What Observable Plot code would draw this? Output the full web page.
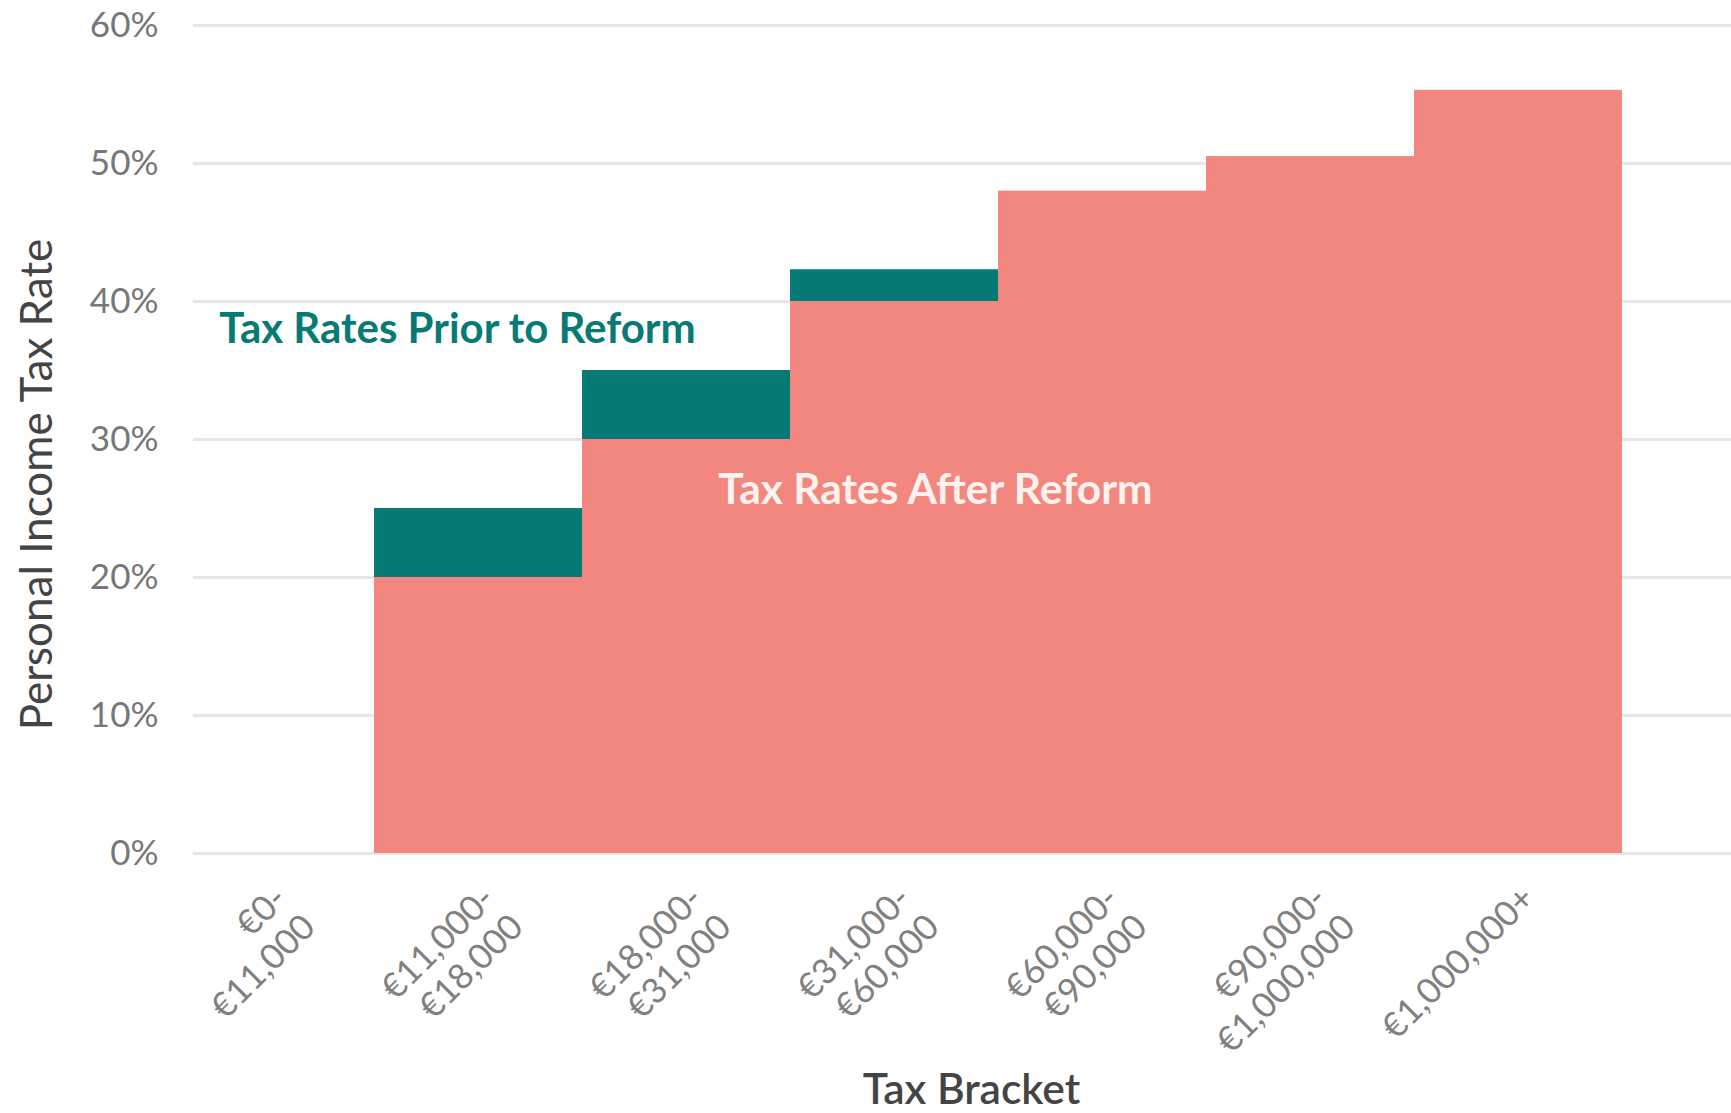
<!DOCTYPE html>
<html>
<head>
<meta charset="utf-8">
<script src="https://cdn.jsdelivr.net/npm/d3@7"></script>
<script src="https://cdn.jsdelivr.net/npm/@observablehq/plot@0.6"></script>
<style>
  html, body { margin: 0; padding: 0; background: #fff; }
  #chart svg { display: block; }
</style>
</head>
<body>
<div id="chart"></div>
<script>
// ---- data ----
const brackets = [
  "€0-€11,000",
  "€11,000-€18,000",
  "€18,000-€31,000",
  "€31,000-€60,000",
  "€60,000-€90,000",
  "€90,000-€1,000,000",
  "€1,000,000+"
];
const ratesAfterReform = [0, 20, 30, 40, 48, 50.5, 55.3];
const ratesPriorToReform = [0, 25, 35, 42.3, 48, 50.5, 55.3];
const yTicks = [0, 10, 20, 30, 40, 50, 60];
const yTitle = "Personal Income Tax Rate";
const xTitle = "Tax Bracket";
const labelPrior = "Tax Rates Prior to Reform";
const labelAfter = "Tax Rates After Reform";

const rows = brackets.map((b, i) => ({bracket: b, after: ratesAfterReform[i], prior: ratesPriorToReform[i]}));
const reductions = rows.filter(d => d.prior > d.after);

const pink = "#f2877f";
const teal = "#087a76";

const chart = Plot.plot({
  width: 1731,
  height: 1113,
  marginTop: 25,
  marginBottom: 260,
  marginLeft: 193,
  marginRight: 0,
  style: {fontFamily: "Lato, sans-serif", background: "#fff"},
  x: {type: "band", domain: brackets, range: [166, 1622], padding: 0, label: null},
  y: {domain: [0, 60], label: null},
  marks: [
    Plot.gridY(yTicks, {stroke: "#e6e6e6", strokeOpacity: 1, strokeWidth: 3}),
    Plot.barY(rows, {x: "bracket", y: "after", fill: pink}),
    Plot.rectY(reductions, {x: "bracket", y1: "after", y2: "prior", fill: teal}),
    Plot.axisY(yTicks, {
      tickSize: 0, tickPadding: 35, fontSize: 35, fill: "#777",
      tickFormat: d => d + "%", label: null
    }),
    Plot.axisX({
      tickSize: 0, tickRotate: -45, tickPadding: 27, dx: -2,
      fontSize: 35, fill: "#808080", lineHeight: 1.15,
      textAnchor: "end", lineAnchor: "top",
      tickFormat: d => d.replace("-", "-\n"), label: null
    }),
    Plot.text([yTitle], {
      frameAnchor: "left", textAnchor: "middle", rotate: -90, dx: -156, dy: 45,
      fontSize: 44, fill: "#444"
    }),
    Plot.text([xTitle], {
      frameAnchor: "bottom", textAnchor: "middle", lineAnchor: "bottom", dx: 9, dy: 250,
      fontSize: 42.5, fontWeight: 600, fill: "#444"
    }),
    Plot.text([labelPrior], {
      x: () => brackets[1], y: () => 38.0, dx: -21,
      fontSize: 42, fontWeight: 700, fill: teal
    }),
    Plot.text([labelAfter], {
      x: () => brackets[3], y: () => 26.3, dx: 41,
      fontSize: 42.5, fontWeight: 700, fill: "#fff2ef"
    })
  ]
});
document.getElementById("chart").appendChild(chart);
</script>
</body>
</html>
